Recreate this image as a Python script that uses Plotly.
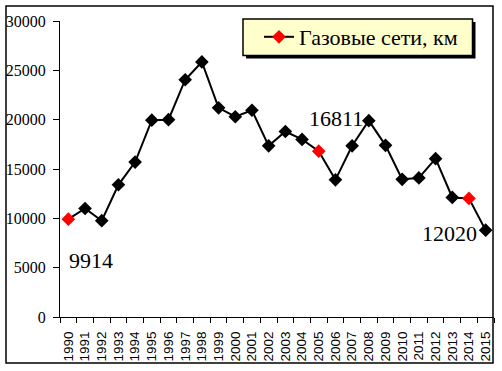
import plotly.graph_objects as go

years = [str(y) for y in range(1990, 2016)]
values = [9914, 11000, 9760, 13400, 15700, 19950, 20000, 24050, 25850, 21200,
          20300, 20950, 17350, 18800, 18000, 16811, 13900, 17350, 19900, 17400,
          13950, 14100, 16050, 12120, 12020, 8800]
highlight_years = ["1990", "2005", "2014"]
label_years = ["1990", "2005", "2014"]
label_shifts = {"1990": (23, -41), "2005": (17, 33), "2014": (-19, -35)}
series_name = "Газовые сети, км"
y_ticks = [0, 5000, 10000, 15000, 20000, 25000, 30000]

colors = ["#FF0000" if y in highlight_years else "#000000" for y in years]

fig = go.Figure()
fig.add_trace(go.Scatter(
    x=years, y=values, mode="lines+markers", name=series_name,
    line=dict(color="black", width=2),
    marker=dict(symbol="diamond", size=10.5, color=colors, line=dict(width=0)),
    showlegend=True, cliponaxis=False,
))

serif = "Liberation Serif, Times New Roman, serif"
sans = "Liberation Sans, Arial, sans-serif"

for y in label_years:
    i = years.index(y)
    v = values[i]
    dx, dy = label_shifts[y]
    fig.add_annotation(x=i, y=v, xref="x", yref="y", text=f"{v}", showarrow=False,
                       xshift=dx, yshift=dy,
                       font=dict(family=serif, size=22, color="black"))

W, H = 502, 371
L, R, T, B = 60, 8, 21, 54
pw, ph = W - L - R, H - T - B

def px(x):
    return (x - L) / pw

def py(y):
    return (H - B - y) / ph

# outer chart border
fig.add_shape(type="rect", xref="paper", yref="paper",
              x0=px(6), x1=px(493), y0=py(363), y1=py(6),
              line=dict(color="black", width=1.5), fillcolor="rgba(0,0,0,0)",
              layer="above")
# legend shadow
fig.add_shape(type="rect", xref="paper", yref="paper",
              x0=px(246), x1=px(475.5), y0=py(58.5), y1=py(22),
              line=dict(width=0), fillcolor="black", layer="above")
# legend box
fig.add_shape(type="rect", xref="paper", yref="paper",
              x0=px(243), x1=px(472.5), y0=py(55.5), y1=py(19),
              line=dict(color="black", width=1.5), fillcolor="#FFFFCC", layer="above")

fig.update_layout(
    width=W, height=H,
    margin=dict(l=L, r=R, t=T, b=B, autoexpand=False),
    paper_bgcolor="white", plot_bgcolor="white",
    legend=dict(x=px(259), y=py(16), xanchor="left", yanchor="top",
                bgcolor="rgba(0,0,0,0)", borderwidth=0,
                font=dict(family=serif, size=22, color="black")),
    xaxis=dict(type="category", range=[-0.5, len(years) - 0.5], automargin=False,
               showline=True, linecolor="black", linewidth=1,
               ticks="outside", ticklen=5, tickcolor="black", tickson="boundaries",
               tickangle=-90, showgrid=False, zeroline=False, ticklabelstandoff=8,
               tickfont=dict(family=sans, size=13.5, color="black")),
    yaxis=dict(range=[0, 30000], tickvals=y_ticks, tickformat="d", automargin=False,
               showline=True, linecolor="black", linewidth=1,
               ticks="outside", ticklen=6, tickcolor="black", ticklabelstandoff=4,
               showgrid=False, zeroline=False,
               tickfont=dict(family=serif, size=16, color="black")),
)

fig.write_html("out.html", config={"displayModeBar": False},
               post_script="document.body.style.margin='0';")
